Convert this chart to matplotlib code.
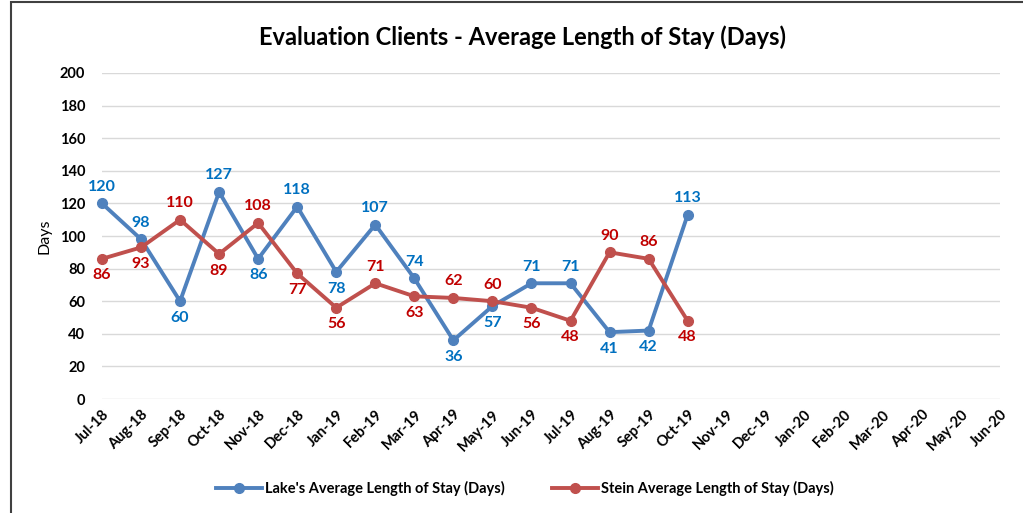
import matplotlib.pyplot as plt
from matplotlib.patches import Rectangle

months = ["Jul-18", "Aug-18", "Sep-18", "Oct-18", "Nov-18", "Dec-18",
          "Jan-19", "Feb-19", "Mar-19", "Apr-19", "May-19", "Jun-19",
          "Jul-19", "Aug-19", "Sep-19", "Oct-19", "Nov-19", "Dec-19",
          "Jan-20", "Feb-20", "Mar-20", "Apr-20", "May-20", "Jun-20"]
lake = [120, 98, 60, 127, 86, 118, 78, 107, 74, 36, 57, 71, 71, 41, 42, 113]
stein = [86, 93, 110, 89, 108, 77, 56, 71, 63, 62, 60, 56, 48, 90, 86, 48]

# label side per point: 1 above, -1 below
lake_side = [1, 1, -1, 1, -1, 1, -1, 1, 1, -1, -1, 1, 1, -1, -1, 1]
stein_side = [-1, -1, 1, -1, 1, -1, -1, 1, -1, 1, 1, -1, -1, 1, 1, -1]

plt.rcParams["font.family"] = ["Lato", "DejaVu Sans"]

fig = plt.figure(figsize=(10.23, 5.13), dpi=100)
ax = fig.add_axes([0.0997, 0.2222, 0.8778, 0.6355])

lake_x = list(range(len(lake)))
stein_x = list(range(len(stein)))

ax.plot(lake_x, lake, color="#4F81BD", linewidth=2.8, marker="o",
        markersize=7, clip_on=False, zorder=3,
        label="Lake's Average Length of Stay (Days)")
ax.plot(stein_x, stein, color="#C0504D", linewidth=2.8, marker="o",
        markersize=7, clip_on=False, zorder=3,
        label="Stein Average Length of Stay (Days)")

for x, v, s in zip(lake_x, lake, lake_side):
    ax.annotate(str(v), (x, v), xytext=(0, 12 * s), textcoords="offset points",
                ha="center", va="center", fontsize=11.5, fontweight="bold",
                color="#0070C0", zorder=4)
for x, v, s in zip(stein_x, stein, stein_side):
    ax.annotate(str(v), (x, v), xytext=(0, 12 * s), textcoords="offset points",
                ha="center", va="center", fontsize=11.5, fontweight="bold",
                color="#C00000", zorder=4)

ax.set_xlim(0, len(months) - 1)
ax.set_ylim(0, 200)
ax.set_yticks(range(0, 201, 20))
ax.set_xticks(range(len(months)))
ax.set_xticklabels(months, rotation=45, ha="right", rotation_mode="anchor")
ax.tick_params(axis="both", length=0, labelsize=10.5)
ax.tick_params(axis="y", pad=12)
ax.tick_params(axis="x", pad=6)
for lbl in ax.get_xticklabels() + ax.get_yticklabels():
    lbl.set_fontweight("bold")
ax.grid(axis="y", color="#D9D9D9", linewidth=1)
ax.set_axisbelow(True)
for side in ["top", "right", "left", "bottom"]:
    ax.spines[side].set_visible(False)

ax.set_ylabel("Days", fontsize=11.5, labelpad=6)
fig.text(0.511, 0.928, "Evaluation Clients - Average Length of Stay (Days)",
         ha="center", va="center", fontsize=17, fontweight="bold")

leg = fig.legend(loc="center", bbox_to_anchor=(0.513, 0.047), ncol=2,
                 frameon=False, fontsize=10.5, handlelength=3.2,
                 columnspacing=3.2, handletextpad=0.2)
for t in leg.get_texts():
    t.set_fontweight("bold")

# outer frame
fig.patches.append(Rectangle((0.0105, -0.01), 1.1, 1.006, fill=False,
                             edgecolor="#404040", linewidth=1.5,
                             transform=fig.transFigure))

fig.savefig("out.png", dpi=100)
